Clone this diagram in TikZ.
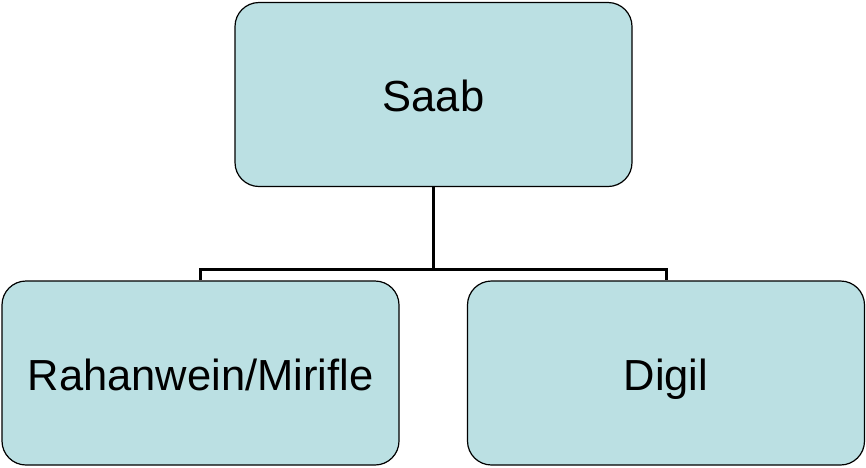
\documentclass[tikz,border=0pt]{standalone}
\usepackage{fontspec}
\setmainfont{Liberation Sans}
\definecolor{boxfill}{HTML}{BBE0E3}
\begin{document}
\begin{tikzpicture}[x=1pt,y=-1pt,
  orgbox/.style={draw=black, line width=1.2pt, fill=boxfill, rounded corners=24pt,
    minimum width=397pt, minimum height=184pt, inner sep=0pt,
    text height=34pt, text depth=0pt,
    font=\fontsize{43.5}{52}\selectfont},
  link/.style={draw=black, line width=3pt}]
\useasboundingbox (0,0) rectangle (866,467);
\node[orgbox] (saab) at (433.5,94.5) {Saab};
\node[orgbox] (rah) at (200.5,373) {Rahanwein/Mirifle};
\node[orgbox] (digil) at (666,373) {Digil};
\coordinate (j) at (433.5,269);
\draw[link] (saab.south) -- (j);
\draw[link] (rah.north) -- (rah.north |- j) -- (digil.north |- j) -- (digil.north);
\end{tikzpicture}
\end{document}
